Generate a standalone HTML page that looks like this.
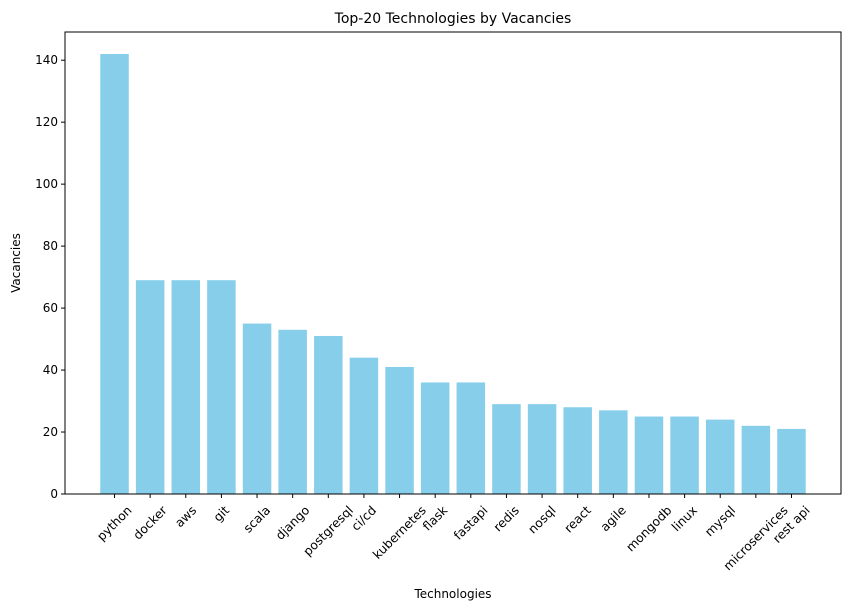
<!DOCTYPE html>
<html><head><meta charset="utf-8"><style>
body{margin:0;background:#fff}
svg text{font-family:"DejaVu Sans","Liberation Sans",sans-serif;fill:#000}
</style></head><body>
<svg id="chart" width="850" height="611">
<text x="453" y="23" font-size="14" text-anchor="middle">Top-20 Technologies by Vacancies</text>
<g id="bars"></g><g id="yaxis"></g><g id="xaxis"></g>
<rect x="65" y="32" width="776" height="462" fill="none" stroke="#000" stroke-width="1"/>
<text x="453" y="598" font-size="12" text-anchor="middle">Technologies</text>
<text x="0" y="0" font-size="12" text-anchor="middle" transform="translate(20,263) rotate(-90)">Vacancies</text>
</svg>
<script>
const categories=["python","docker","aws","git","scala","django","postgresql","ci/cd","kubernetes","flask","fastapi","redis","nosql","react","agile","mongodb","linux","mysql","microservices","rest api"];
const values=[142,69,69,69,55,53,51,44,41,36,36,29,29,28,27,25,25,24,22,21];
const yTicks=[0,20,40,60,80,100,120,140];
const NS="http://www.w3.org/2000/svg";
const L=65,R=841,T=32,B=494;
const xmin=-1.39,xmax=categories.length-1+1.39;
const x=i=>L+(i-xmin)/(xmax-xmin)*(R-L);
const ymax=149.1;
const y=v=>B-v/ymax*(B-T);
const bw=0.8*(R-L)/(xmax-xmin);
function mk(t,a){const e=document.createElementNS(NS,t);for(const k in a)e.setAttribute(k,a[k]);return e;}
const bars=document.getElementById('bars'),ya=document.getElementById('yaxis'),xa=document.getElementById('xaxis');
values.forEach((v,i)=>{
 const r=mk('rect',{x:x(i)-bw/2,y:y(v),width:bw,height:B-y(v),fill:'#87ceeb'});
 
 
 bars.appendChild(r);
});
yTicks.forEach(t=>{
 const l=mk('line',{x1:L-4,x2:L,y1:y(t),y2:y(t),stroke:'#000'});
 
 
 ya.appendChild(l);
 const tx=mk('text',{x:L-7,y:y(t)+4,'font-size':12,'text-anchor':'end'});
 tx.textContent=t;
 
 
 ya.appendChild(tx);
});
categories.forEach((c,i)=>{
 const l=mk('line',{x1:x(i),x2:x(i),y1:B,y2:B+4,stroke:'#000'});
 
 
 xa.appendChild(l);
 const tx=mk('text',{'font-size':12.3,'text-anchor':'middle'});
 tx.textContent=c;
 
 
 xa.appendChild(tx);
 const len=tx.getComputedTextLength();
 const h=(len+12)*0.7071;
 tx.setAttribute('transform','translate('+x(i)+','+(B+10+h/2)+') rotate(-45)');
 tx.setAttribute('y',4);
});
</script>
</body></html>
